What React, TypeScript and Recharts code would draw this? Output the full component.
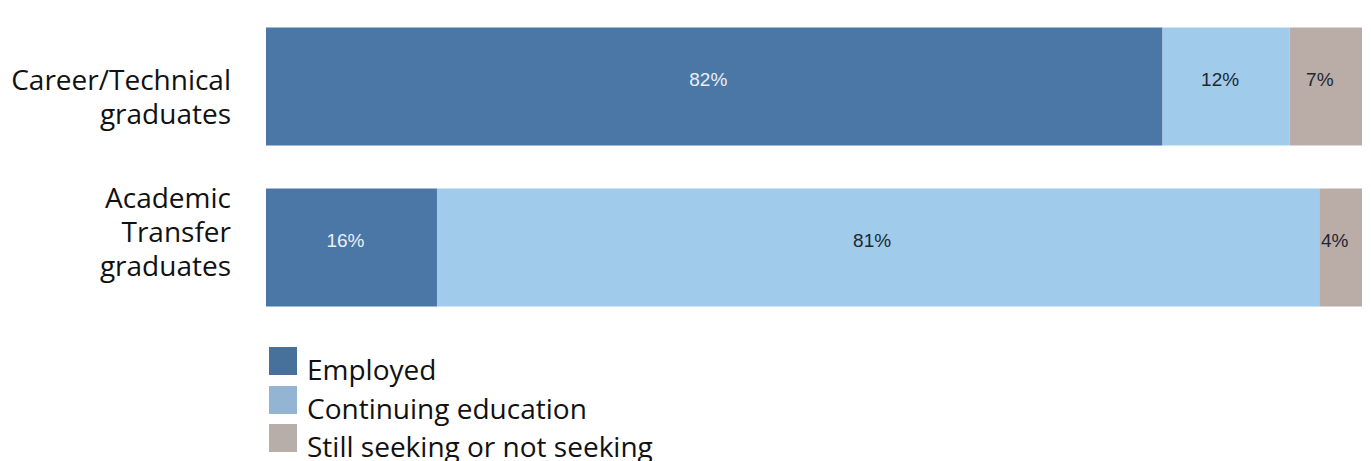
import React from 'react'
import { BarChart, Bar, XAxis, YAxis, LabelList, Legend } from 'recharts'

// graduate groups (line breaks kept as they appear on the chart)
const categories = ['Career/Technical\ngraduates', 'Academic\nTransfer\ngraduates']

// percent of each group (labels show them rounded)
const employed = [81.8, 15.6]
const continuing = [11.6, 80.5]
const seeking = [6.6, 3.9]

const seriesNames = ['Employed', 'Continuing education', 'Still seeking or not seeking']
const barColors = ['#4a77a6', '#a0cbea', '#baaca7']
const legendColors = ['#47709a', '#94b4d4', '#b8aea9']
const labelColors = ['#e9eff6', '#1e2833', '#1e2833']

const data = categories.map((name, i) => ({
  name,
  employed: employed[i],
  continuing: continuing[i],
  seeking: seeking[i],
}))

const keys = ['employed', 'continuing', 'seeking']

// the two axis labels don't sit at the same spot relative to their bars
const tickShift = [21, -5]

const CategoryTick = (props: any) => {
  const { x, y, payload, index } = props
  const lines: string[] = String(payload.value).split('\n')
  const lineH = 34
  const first = y - ((lines.length - 1) * lineH) / 2 + (tickShift[index] ?? 8)
  return (
    <text textAnchor="end" fill="#111" fontFamily="'Open Sans', sans-serif" fontSize={28}>
      {lines.map((l, i) => (
        <tspan key={i} x={x} y={first + i * lineH}>
          {l}
        </tspan>
      ))}
    </text>
  )
}

const makeLabel = (color: string) => (props: any) => {
  const { x, y, width, height, value } = props
  return (
    <text
      x={x + width / 2 - 6}
      y={y + height / 2 - 7}
      textAnchor="middle"
      dominantBaseline="central"
      fill={color}
      fontFamily="'Liberation Sans', Arial, sans-serif"
      fontSize={19}
    >
      {Math.round(value)}%
    </text>
  )
}

const LegendBox = () => (
  <div style={{ fontFamily: "'Open Sans', sans-serif", fontSize: 28, color: '#111' }}>
    {seriesNames.map((n, i) => (
      <div key={n} style={{ display: 'flex', alignItems: 'flex-start', height: 38.5 }}>
        <span
          style={{
            display: 'inline-block',
            width: 28,
            height: 28,
            background: legendColors[i],
            marginRight: 10,
          }}
        />
        <span style={{ lineHeight: '28px', marginTop: 8, whiteSpace: 'nowrap' }}>{n}</span>
      </div>
    ))}
  </div>
)

export default function App() {
  return (
    <div style={{ position: 'absolute', left: 0, top: 0, width: 1371, height: 461, background: '#fff', overflow: 'hidden' }}>
      <BarChart
        width={1371}
        height={461}
        data={data}
        layout="vertical"
        margin={{ top: 5.5, right: 9, bottom: 133.5, left: 0 }}
      >
        <XAxis type="number" hide domain={[0, 'dataMax']} />
        <YAxis
          type="category"
          dataKey="name"
          width={266}
          axisLine={false}
          tickLine={false}
          tickSize={0}
          tickMargin={35}
          tick={<CategoryTick />}
          interval={0}
        />
        {keys.map((k, i) => (
          <Bar key={k} dataKey={k} name={seriesNames[i]} stackId="a" fill={barColors[i]} barSize={118} isAnimationActive={false}>
            <LabelList dataKey={k} content={makeLabel(labelColors[i])} />
          </Bar>
        ))}
        <Legend
          layout="vertical"
          align="center"
          verticalAlign="middle"
          wrapperStyle={{ position: 'absolute', left: 269, top: 347, width: 500 }}
          content={<LegendBox />}
        />
      </BarChart>
    </div>
  )
}
